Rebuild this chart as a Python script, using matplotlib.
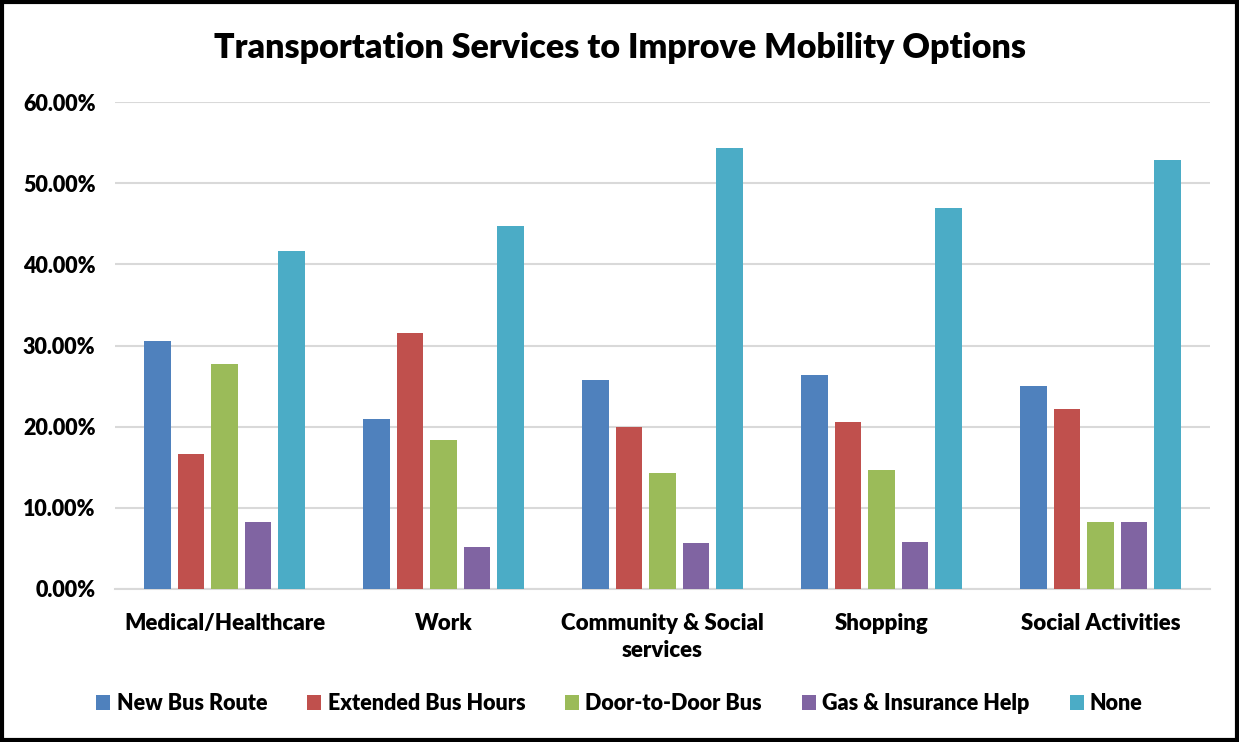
import numpy as np
import matplotlib
matplotlib.use('Agg')
import matplotlib.pyplot as plt
from matplotlib.ticker import PercentFormatter
from matplotlib.patches import Rectangle

plt.rcParams['font.family'] = ['Lato', 'DejaVu Sans']
plt.rcParams['font.weight'] = 'bold'

categories = ['Medical/Healthcare', 'Work', 'Community & Social\nservices',
              'Shopping', 'Social Activities']
series_names = ['New Bus Route', 'Extended Bus Hours', 'Door-to-Door Bus',
                'Gas & Insurance Help', 'None']
new_bus_route = [30.5, 20.9, 25.7, 26.4, 25.0]
extended_bus_hours = [16.6, 31.5, 19.9, 20.6, 22.2]
door_to_door_bus = [27.7, 18.3, 14.3, 14.7, 8.3]
gas_insurance_help = [8.3, 5.2, 5.7, 5.8, 8.3]
none_of_these = [41.6, 44.7, 54.3, 47.0, 52.8]

series = [new_bus_route, extended_bus_hours, door_to_door_bus,
          gas_insurance_help, none_of_these]
colors = ['#4F81BD', '#C0504D', '#9BBB59', '#8064A2', '#4BACC6']

fig = plt.figure(figsize=(12.39, 7.42), dpi=100)
ax = fig.add_axes([0.0928, 0.2062, 0.8838, 0.6563])

x = np.arange(len(categories))
step = 0.153
width = 0.123
for i, (vals, name, c) in enumerate(zip(series, series_names, colors)):
    ax.bar(x + (i - 2) * step, vals, width, color=c, label=name, zorder=3)

ax.set_xlim(-0.5, 4.5)
ax.set_ylim(0, 60)
ax.set_yticks(np.arange(0, 61, 10))
ax.yaxis.set_major_formatter(PercentFormatter(decimals=2))
ax.grid(axis='y', color='#d9d9d9', linewidth=1.5, zorder=0)
ax.set_xticks(x)
ax.set_xticklabels(categories, fontsize=16, fontweight='heavy', linespacing=1.4)
for lbl in ax.get_yticklabels():
    lbl.set_fontweight('heavy')
    lbl.set_fontsize(15.5)
ax.tick_params(axis='x', length=0, pad=17)
ax.tick_params(axis='y', length=0, pad=14)
for s in ['top', 'right', 'left']:
    ax.spines[s].set_visible(False)
ax.spines['bottom'].set_color('#d9d9d9')
ax.spines['bottom'].set_linewidth(1.5)

fig.suptitle('Transportation Services to Improve Mobility Options',
             fontsize=24.5, fontweight='heavy', y=0.957)

leg = fig.legend(loc='center', bbox_to_anchor=(0.5, 0.052), ncol=5, frameon=False,
                 prop={'size': 15.5, 'weight': 'heavy'}, handlelength=0.65,
                 handleheight=0.65, handletextpad=0.3, columnspacing=1.85)

# outer frame around the whole chart
fig.patches.append(Rectangle((0.002, 0.003), 0.996, 0.994, transform=fig.transFigure,
                             fill=False, edgecolor='black', linewidth=3))

fig.savefig('out.png', dpi=100)
